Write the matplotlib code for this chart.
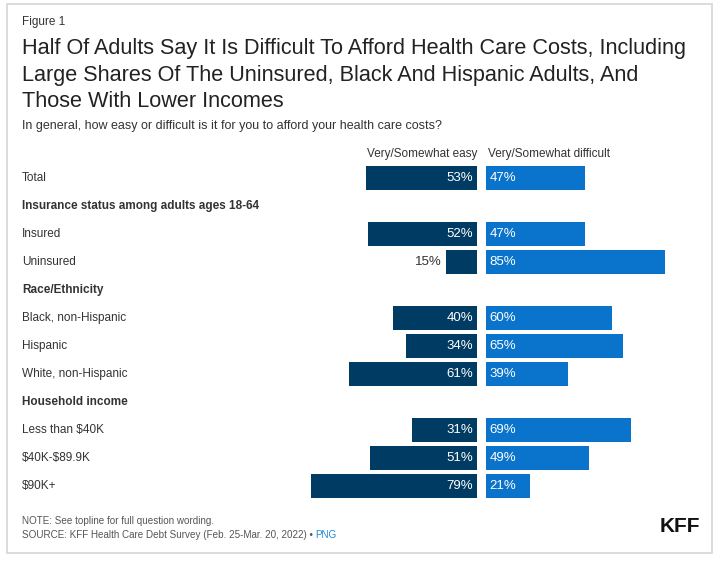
import matplotlib
matplotlib.use("Agg")
import matplotlib.pyplot as plt
from matplotlib.patches import Rectangle
from matplotlib.transforms import blended_transform_factory

plt.rcParams["font.family"] = ["Liberation Sans", "DejaVu Sans"]
plt.rcParams["text.parse_math"] = False

# rows top to bottom; None marks a group header row
labels = [
    "Total",
    "Insurance status among adults ages 18-64",
    "Insured",
    "Uninsured",
    "Race/Ethnicity",
    "Black, non-Hispanic",
    "Hispanic",
    "White, non-Hispanic",
    "Household income",
    "Less than $40K",
    "$40K-$89.9K",
    "$90K+",
]
is_header = [False, True, False, False, True, False, False, False, True, False, False, False]
easy = [53, None, 52, 15, None, 40, 34, 61, None, 31, 51, 79]
difficult = [47, None, 47, 85, None, 60, 65, 39, None, 69, 49, 21]

DARK = "#003b63"
BLUE = "#0a74cc"
TEXT = "#333333"

W, H = 720, 561
fig = plt.figure(figsize=(W / 100, H / 100), dpi=100)
fig.patch.set_facecolor("white")


def px(x, y, w, h):
    # pixel box (top-left origin) to figure fraction
    return [x / W, 1 - (y + h) / H, w / W, h / H]


fig.patches.append(Rectangle((7 / W, 1 - 553 / H), 705 / W, 549 / H,
                             transform=fig.transFigure, fill=False,
                             edgecolor="#d6d6d6", linewidth=1.2))

scale = 2.1  # px per percent
top, row_h = 164, 28
n = len(labels)
ax_e = fig.add_axes(px(477 - 90 * scale, top, 90 * scale, n * row_h))
ax_d = fig.add_axes(px(486, top, 100 * scale, n * row_h))
for ax in (ax_e, ax_d):
    ax.set_ylim(n - 0.5, -0.5)
    ax.axis("off")
ax_e.set_xlim(90, 0)
ax_d.set_xlim(0, 100)

bh = 0.86
for i in range(n):
    if easy[i] is None:
        continue
    ax_e.barh(i, easy[i], height=bh, color=DARK)
    ax_d.barh(i, difficult[i], height=bh, color=BLUE)
    if easy[i] >= 20:
        ax_e.text(1.8, i, f"{easy[i]}%", color="white", ha="right",
                  va="center", fontsize=9.5)
    else:
        ax_e.text(easy[i] + 1.8, i, f"{easy[i]}%", color=TEXT, ha="right",
                  va="center", fontsize=9.5)
    ax_d.text(1.8, i, f"{difficult[i]}%", color="white", ha="left",
              va="center", fontsize=9.5)

ax_e.text(0, -0.85, "Very/Somewhat easy", ha="right", va="center",
          fontsize=8.5, color=TEXT)
ax_d.text(1, -0.85, "Very/Somewhat difficult", ha="left", va="center",
          fontsize=8.5, color=TEXT)

tr = blended_transform_factory(fig.transFigure, ax_e.transData)
for i, lab in enumerate(labels):
    fig.text(22 / W, i, lab, transform=tr, ha="left", va="center",
             fontsize=8.5, color=TEXT,
             fontweight="bold" if is_header[i] else "normal")

fig.text(22 / W, 1 - 22 / H, "Figure 1", fontsize=8.5, color=TEXT, va="center")
fig.text(22 / W, 1 - 75 / H,
         "Half Of Adults Say It Is Difficult To Afford Health Care Costs, Including\n"
         "Large Shares Of The Uninsured, Black And Hispanic Adults, And\n"
         "Those With Lower Incomes",
         fontsize=15.6, color="#222222", va="center", linespacing=1.33)
fig.text(22 / W, 1 - 126 / H,
         "In general, how easy or difficult is it for you to afford your health care costs?",
         fontsize=9, color=TEXT, va="center")

fig.text(22 / W, 1 - 521 / H, "NOTE: See topline for full question wording.",
         fontsize=7.1, color="#555555", va="center")
src = fig.text(22 / W, 1 - 535 / H,
               "SOURCE: KFF Health Care Debt Survey (Feb. 25-Mar. 20, 2022) \u2022 ",
               fontsize=7.1, color="#555555", va="center")
fig.canvas.draw()
bb = src.get_window_extent()
fig.text(bb.x1 / W, 1 - 535 / H, "PNG", fontsize=7.1, color="#1a8ad4", va="center")
fig.text(700 / W, 1 - 527 / H, "KFF", fontsize=15, fontweight="bold",
         color="#111111", ha="right", va="center")

fig.savefig("out.png", dpi=100)
